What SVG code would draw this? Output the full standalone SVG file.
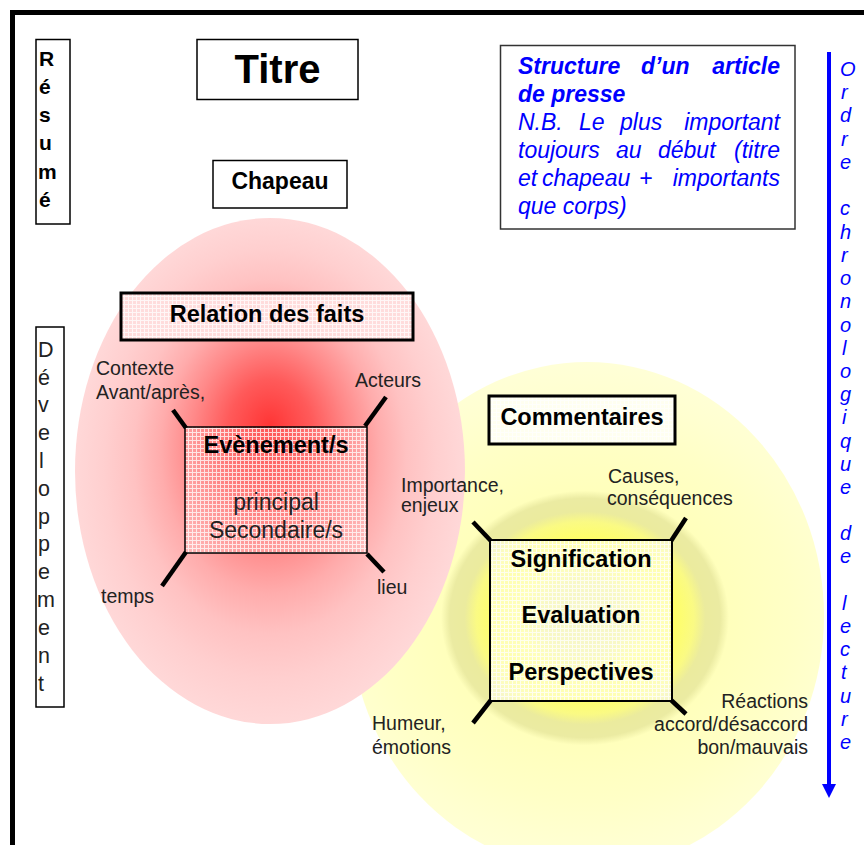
<svg xmlns="http://www.w3.org/2000/svg" width="864" height="845" viewBox="0 0 864 845">
<defs>
<style>
.box{fill:none;stroke:#000;stroke-width:1.5}
.thick{fill:none;stroke:#000;stroke-width:3}
.bt{font-family:"Liberation Sans",Arial,sans-serif;font-weight:bold;fill:#000;text-anchor:middle}
.rt{font-family:"Liberation Sans",Arial,sans-serif;fill:#222;text-anchor:middle}
.lbl{font-family:"Liberation Sans",Arial,sans-serif;font-size:19.5px;fill:#222}
.blue{font-family:"Liberation Sans",Arial,sans-serif;font-style:italic;font-size:23px;fill:#0000ff}
.conn{stroke:#000;stroke-width:4.5;stroke-linecap:butt}
</style>
<pattern id="grid" width="4" height="4" patternUnits="userSpaceOnUse">
<path d="M0 0.5H4M0.5 0V4" stroke="#fff" stroke-width="1" opacity="0.75"/>
</pattern>
<radialGradient id="redg" cx="0.5" cy="0.5" r="0.5" fx="0.5" fy="0.41">
<stop offset="0" stop-color="#ff3535"/>
<stop offset="0.22" stop-color="#ff5a5a"/>
<stop offset="0.4" stop-color="#ff8888"/>
<stop offset="0.56" stop-color="#ffacac"/>
<stop offset="0.7" stop-color="#ffc2c2"/>
<stop offset="0.85" stop-color="#ffcfcf"/>
<stop offset="1" stop-color="#ffd8d8"/>
</radialGradient>
<radialGradient id="yelg" gradientUnits="userSpaceOnUse" cx="0" cy="0" r="260" gradientTransform="translate(585 618) scale(1.13 1)">
<stop offset="0" stop-color="#e8e8a2"/>
<stop offset="0.14" stop-color="#eeee98"/>
<stop offset="0.22" stop-color="#ffff7a"/>
<stop offset="0.3" stop-color="#ffff66"/>
<stop offset="0.37" stop-color="#fafa84"/>
<stop offset="0.41" stop-color="#ebeb9e"/>
<stop offset="0.46" stop-color="#ebeba2"/>
<stop offset="0.49" stop-color="#ffffbc"/>
<stop offset="0.7" stop-color="#ffffc6"/>
<stop offset="0.85" stop-color="#ffffd0"/>
<stop offset="1" stop-color="#ffffd8"/>
</radialGradient>
</defs>

<rect width="864" height="845" fill="#fff"/>
<path d="M12.5 850V12.5H870" fill="none" stroke="#000" stroke-width="5"/>

<g id="zones">
<ellipse cx="587" cy="616" rx="237" ry="254" fill="url(#yelg)"/>
<ellipse cx="270" cy="471" rx="195" ry="253" fill="url(#redg)"/>
</g>

<g id="resume">
<rect x="36" y="39.5" width="34" height="184.5" class="box"/>
<g font-family="'Liberation Sans',Arial,sans-serif" font-weight="bold" font-size="21">
<text x="39" y="66">R</text><text x="39" y="94">é</text><text x="39" y="122">s</text><text x="39" y="150">u</text><text x="38" y="179">m</text><text x="39" y="207">é</text>
</g>
</g>

<g id="developpement">
<rect x="36" y="327" width="28" height="380" class="box"/>
<g font-family="'Liberation Sans',Arial,sans-serif" font-size="21.5" fill="#222">
<text x="38" y="357">D</text><text x="38" y="385">é</text><text x="38" y="412">v</text><text x="38" y="440">e</text><text x="39" y="468">l</text><text x="38" y="496">o</text><text x="38" y="524">p</text><text x="38" y="551">p</text><text x="38" y="579">e</text><text x="37" y="607">m</text><text x="38" y="635">e</text><text x="38" y="663">n</text><text x="38" y="691">t</text>
</g>
</g>

<g id="titre">
<rect x="197" y="39.5" width="161" height="60" class="box"/>
<text x="277.5" y="83" class="bt" font-size="40">Titre</text>
</g>

<g id="chapeau">
<rect x="213" y="160.5" width="134" height="47.5" class="box"/>
<text x="280" y="189" class="bt" font-size="23">Chapeau</text>
</g>

<g id="note">
<rect x="500.5" y="45.5" width="294.5" height="183.5" fill="#fff" stroke="#333" stroke-width="1.5"/>
<g class="blue">
<text y="74" font-weight="bold"><tspan x="518">Structure</tspan><tspan x="641">d’un</tspan><tspan x="780" text-anchor="end">article</tspan></text>
<text y="102" font-weight="bold"><tspan x="518">de presse</tspan></text>
<text y="130"><tspan x="518">N.B.</tspan><tspan x="579">Le</tspan><tspan x="620">plus</tspan><tspan x="780" text-anchor="end">important</tspan></text>
<text y="158"><tspan x="518">toujours</tspan><tspan x="616">au</tspan><tspan x="658">début</tspan><tspan x="780" text-anchor="end">(titre</tspan></text>
<text y="186"><tspan x="518">et</tspan><tspan x="542">chapeau</tspan><tspan x="639">+</tspan><tspan x="780" text-anchor="end">importants</tspan></text>
<text y="214"><tspan x="518">que corps)</tspan></text>
</g>
</g>

<g id="relation">
<rect x="121" y="293" width="292" height="47" fill="#ffdcdc"/>
<rect x="121" y="293" width="292" height="47" fill="url(#grid)"/>
<rect x="121" y="293" width="292" height="47" class="thick"/>
<text x="267" y="322" class="bt" font-size="23.5">Relation des faits</text>
</g>

<g id="evenement">
<rect x="185" y="427" width="182" height="126" fill="#ffdede" fill-opacity="0.2"/>
<rect x="185" y="427" width="182" height="126" fill="url(#grid)"/>
<rect x="185" y="427" width="182" height="126" class="box"/>
<text x="276" y="453" class="bt" font-size="23.5">Evènement/s</text>
<text x="276" y="510" class="rt" font-size="23">principal</text>
<text x="276" y="538" class="rt" font-size="23">Secondaire/s</text>
</g>

<g id="commentaires">
<rect x="489" y="396" width="186" height="48" fill="#fffff0"/>
<rect x="489" y="396" width="186" height="48" fill="url(#grid)"/>
<rect x="489" y="396" width="186" height="48" class="thick"/>
<text x="582" y="425" class="bt" font-size="23.5">Commentaires</text>
</g>

<g id="signification">
<rect x="490" y="540" width="182" height="161" fill="#ffffe4" fill-opacity="0.6"/>
<rect x="490" y="540" width="182" height="161" fill="url(#grid)"/>
<rect x="490" y="540" width="182" height="161" fill="none" stroke="#000" stroke-width="2"/>
<text x="581" y="567" class="bt" font-size="23.5">Signification</text>
<text x="581" y="623" class="bt" font-size="23.5">Evaluation</text>
<text x="581" y="680" class="bt" font-size="23.5">Perspectives</text>
</g>

<g id="connectors">
<line x1="186" y1="428" x2="173" y2="410" class="conn"/>
<line x1="365" y1="426" x2="386" y2="397" class="conn"/>
<line x1="186" y1="552" x2="162" y2="586" class="conn"/>
<line x1="367" y1="554" x2="384" y2="572" class="conn"/>
<line x1="491" y1="541" x2="473" y2="522" class="conn"/>
<line x1="671" y1="541" x2="686" y2="518" class="conn"/>
<line x1="491" y1="700" x2="473" y2="723" class="conn"/>
<line x1="671" y1="700" x2="686" y2="714" class="conn"/>
</g>

<g id="labels" class="lbl">
<text x="96" y="375">Contexte</text>
<text x="96" y="399">Avant/après,</text>
<text x="355" y="387">Acteurs</text>
<text x="101" y="603">temps</text>
<text x="377" y="594">lieu</text>
<text x="401" y="492">Importance,</text>
<text x="401" y="512">enjeux</text>
<text x="608" y="483">Causes,</text>
<text x="607" y="505">conséquences</text>
<text x="372" y="730">Humeur,</text>
<text x="372" y="754">émotions</text>
<text x="808" y="708" text-anchor="end">Réactions</text>
<text x="808" y="731" text-anchor="end">accord/désaccord</text>
<text x="808" y="754" text-anchor="end">bon/mauvais</text>
</g>

<g id="ordre">
<line x1="829" y1="52" x2="829" y2="786" stroke="#0000ff" stroke-width="4"/>
<path d="M822 784H836L829 798Z" fill="#0000ff"/>
<g font-family="'Liberation Sans',Arial,sans-serif" font-style="italic" font-size="20" fill="#0000ff">
<text x="840" y="76">O</text><text x="841" y="99">r</text><text x="840" y="122">d</text><text x="841" y="146">r</text><text x="840" y="169">e</text>
<text x="840" y="215">c</text><text x="840" y="239">h</text><text x="841" y="262">r</text><text x="840" y="285">o</text><text x="840" y="308">n</text><text x="840" y="332">o</text><text x="842" y="355">l</text><text x="840" y="378">o</text><text x="840" y="401">g</text><text x="842" y="424">i</text><text x="840" y="448">q</text><text x="840" y="471">u</text><text x="840" y="494">e</text>
<text x="840" y="540">d</text><text x="840" y="563">e</text>
<text x="842" y="610">l</text><text x="840" y="633">e</text><text x="840" y="656">c</text><text x="841" y="679">t</text><text x="840" y="703">u</text><text x="841" y="726">r</text><text x="840" y="749">e</text>
</g>
</g>
</svg>
